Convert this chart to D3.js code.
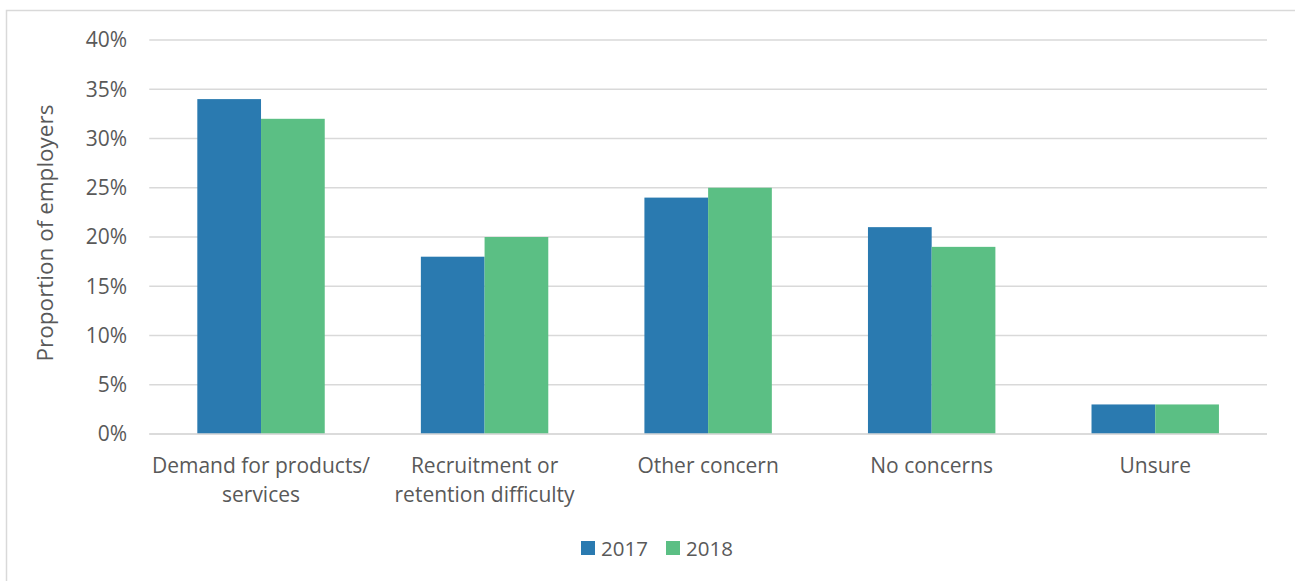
<!DOCTYPE html>
<html>
<head>
<meta charset="utf-8">
<script src="https://cdn.jsdelivr.net/npm/d3@7"></script>
<style>
  html, body { margin: 0; padding: 0; background: #fff; }
  svg { display: block; }
  text { font-family: "Open Sans", Lato, sans-serif; fill: #595959; }
</style>
</head>
<body>
<svg id="chart" width="1295" height="581"></svg>
<script>
const categories = [["Demand for products/", "services"], ["Recruitment or", "retention difficulty"], ["Other concern"], ["No concerns"], ["Unsure"]];
const seriesNames = ["2017", "2018"];
const values2017 = [34, 18, 24, 21, 3];
const values2018 = [32, 20, 25, 19, 3];
const yTicks = [0, 5, 10, 15, 20, 25, 30, 35, 40];
const colors = ["#2a7ab0", "#5bbf84"];

const svg = d3.select("#chart");
const W = 1295, H = 581;
const FONT = "'Open Sans', Lato, sans-serif";

// outer frame
svg.append("rect").attr("x", 6.5).attr("y", 10.5).attr("width", W + 10).attr("height", H + 10)
  .attr("fill", "none").attr("stroke", "#d9d9d9").attr("stroke-width", 1.5);

const plot = { left: 149.25, right: 1267, top: 40, bottom: 434 };

const keys = categories.map((c, i) => i);
const x = d3.scaleBand().domain(keys).range([plot.left, plot.right]).paddingInner(0.43).paddingOuter(0.215);
const x1 = d3.scaleBand().domain(seriesNames).range([0, x.bandwidth()]);
const y = d3.scaleLinear().domain([0, 40]).range([plot.bottom, plot.top]);

// gridlines
svg.append("g").selectAll("line").data(yTicks).join("line")
  .attr("x1", plot.left).attr("x2", plot.right)
  .attr("y1", d => y(d)).attr("y2", d => y(d))
  .attr("stroke", "#d9d9d9").attr("stroke-width", 1.5);

// y axis labels
const yAxis = d3.axisLeft(y).tickValues(yTicks).tickFormat(d => d + "%").tickSize(0).tickPadding(0);
const gy = svg.append("g").attr("transform", `translate(127,0)`).call(yAxis);
gy.select(".domain").remove();
gy.selectAll("text").style("font-family", FONT).style("font-size", "21px").attr("fill", "#595959").attr("dy", "0.33em");

// bars
const data = [values2017, values2018];
const groups = svg.append("g").selectAll("g").data(keys).join("g")
  .attr("transform", d => `translate(${x(d)},0)`);
groups.selectAll("rect").data(i => seriesNames.map((s, j) => ({ s, v: data[j][i], j })))
  .join("rect")
  .attr("x", d => x1(d.s)).attr("width", x1.bandwidth())
  .attr("y", d => y(d.v)).attr("height", d => y(0) - y(d.v))
  .attr("fill", d => colors[d.j]);

// bottom axis line (over bars)
svg.append("line").attr("x1", plot.left).attr("x2", plot.right)
  .attr("y1", y(0)).attr("y2", y(0)).attr("stroke", "#d9d9d9").attr("stroke-width", 1.5);

// category labels
const xl = svg.append("g").selectAll("text").data(keys).join("text")
  .attr("x", d => x(d) + x.bandwidth() / 2).attr("y", 473)
  .attr("text-anchor", "middle").style("font-size", "21px");
xl.selectAll("tspan").data(d => categories[d].map(t => ({ t, cx: x(d) + x.bandwidth() / 2 })))
  .join("tspan").attr("x", d => d.cx).attr("dy", (d, i) => i === 0 ? 0 : 29).text(d => d.t);

// axis title
svg.append("text").attr("transform", "translate(53,233) rotate(-90)")
  .attr("text-anchor", "middle").style("font-size", "22.5px").text("Proportion of employers");

// legend
const legend = svg.append("g");
const legX = [581, 666];
seriesNames.forEach((s, i) => {
  legend.append("rect").attr("x", legX[i]).attr("y", 541).attr("width", 14).attr("height", 14).attr("fill", colors[i]);
  legend.append("text").attr("x", legX[i] + 20).attr("y", 555.5).style("font-size", "20.5px").text(s);
});
</script>
</body>
</html>
